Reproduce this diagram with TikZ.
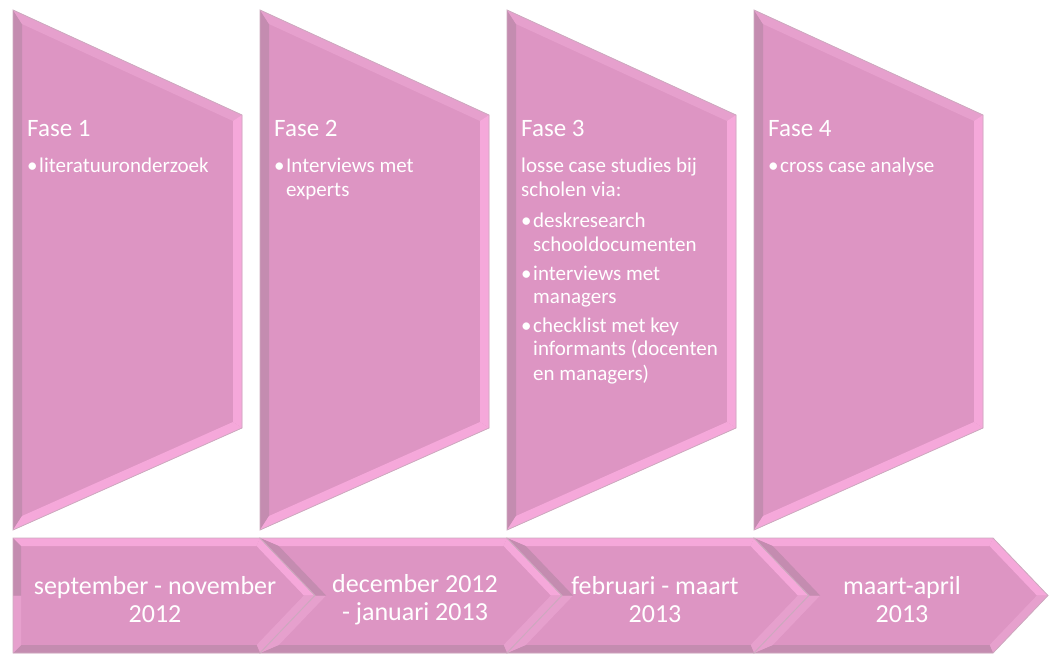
\documentclass[tikz,border=0pt]{standalone}
\usepackage{fontspec}
\setmainfont{Carlito}
\usepackage{tikz}

\definecolor{phasefill}{HTML}{DD95C3}
\definecolor{phaselight}{HTML}{F5A8DA}
\definecolor{phasemid}{HTML}{E6A0CD}
\definecolor{phasedark}{HTML}{C48CB0}
\definecolor{phaseedge}{HTML}{CDAABF}

% lines stacked from the first baseline down
\newcommand{\toplines}[1]{\begin{tabular}[t]{@{}l@{}}#1\end{tabular}}

\begin{document}
\begin{tikzpicture}[
  x=1pt,y=-1pt,
  outline/.style={draw=phaseedge,line width=.8pt},
  heading/.style={text=white,inner sep=0pt,anchor=base west,font=\fontsize{25}{30}\selectfont},
  itemtext/.style={text=white,inner sep=0pt,anchor=base west,font=\fontsize{21}{24}\selectfont},
  datetext/.style={text=white,inner sep=0pt,align=center,font=\fontsize{26}{28}\selectfont}]
  \useasboundingbox (0,0) rectangle (1053,655);

  % the four phase blocks
  \foreach \L in {13,260,507,754}{
    \begin{scope}[shift={(\L,0)}]
      \fill[phasefill] (0,10) -- (229,115) -- (229,428) -- (0,530) -- cycle;
      \fill[phasedark] (0,10) -- (9,24) -- (9,516) -- (0,530) -- cycle;
      \fill[phasemid] (0,10) -- (229,115) -- (220,121) -- (9,24) -- cycle;
      \fill[phaselight] (229,115) -- (229,428) -- (220,422) -- (220,121) -- cycle;
      \fill[phaselight] (229,428) -- (0,530) -- (9,516) -- (220,422) -- cycle;
      \draw[outline] (0,10) -- (229,115) -- (229,428) -- (0,530) -- cycle;
    \end{scope}
  }

  % time line of chevrons
  \foreach \L/\R/\n/\o in {13/260/0/8,260/507/55/11.1,507/754/55/11.1,754/993/55/11.1}{
    \fill[phasefill] (\L,538) -- (\R,538) -- ({\R+55},595.5) -- (\R,653) -- (\L,653) -- ({\L+\n},595.5) -- cycle;
    \fill[phaselight] (\L,538) -- (\R,538) -- ({\R-3.4},546) -- ({\L+\o+0.139*\n},546) -- cycle;
    \fill[phaselight] (\R,538) -- ({\R+55},595.5) -- ({\R+43.9},595.5) -- ({\R-3.4},546) -- cycle;
    \fill[phasemid] ({\R+55},595.5) -- (\R,653) -- ({\R-3.4},645) -- ({\R+43.9},595.5) -- cycle;
    \fill[phasedark] (\R,653) -- (\L,653) -- ({\L+\o+0.139*\n},645) -- ({\R-3.4},645) -- cycle;
    \fill[phasemid] (\L,653) -- ({\L+\n},595.5) -- ({\L+\o+\n},595.5) -- ({\L+\o+0.139*\n},645) -- cycle;
    \fill[phasedark] ({\L+\n},595.5) -- (\L,538) -- ({\L+\o+0.139*\n},546) -- ({\L+\o+\n},595.5) -- cycle;
    \draw[outline] (\L,538) -- (\R,538) -- ({\R+55},595.5) -- (\R,653) -- (\L,653) -- ({\L+\n},595.5) -- cycle;
  }

  \foreach \L/\k in {13/1,260/2,507/3,754/4}
    \node[heading] (fase\k) at ({\L+14},137) {Fase \k};

  \node[itemtext] (dot1) at (27,173) {\textbullet};
  \node[itemtext] (item1) at (39,173) {literatuuronderzoek};
  \node[itemtext] (dot2) at (274,173) {\textbullet};
  \node[itemtext] (item2) at (286,173) {\toplines{Interviews met\\experts}};
  \node[itemtext] (intro3) at (521,173) {\toplines{losse case studies bij\\scholen via:}};
  \node[itemtext] (dot3a) at (521,228) {\textbullet};
  \node[itemtext] (item3a) at (533,228) {\toplines{deskresearch\\schooldocumenten}};
  \node[itemtext] (dot3b) at (521,280) {\textbullet};
  \node[itemtext] (item3b) at (533,280) {\toplines{interviews met\\managers}};
  \node[itemtext] (dot3c) at (521,332) {\textbullet};
  \node[itemtext] (item3c) at (533,332) {\toplines{checklist met key\\informants (docenten\\en managers)}};
  \node[itemtext] (dot4) at (768,173) {\textbullet};
  \node[itemtext] (item4) at (780,173) {cross case analyse};

  \node[datetext] (date1) at (155,600) {september - november\\2012};
  \node[datetext] (date2) at (415,600) {december 2012\\- januari 2013};
  \node[datetext] (date3) at (655,600) {februari - maart\\2013};
  \node[datetext] (date4) at (902,600) {maart-april\\2013};
\end{tikzpicture}
\end{document}
